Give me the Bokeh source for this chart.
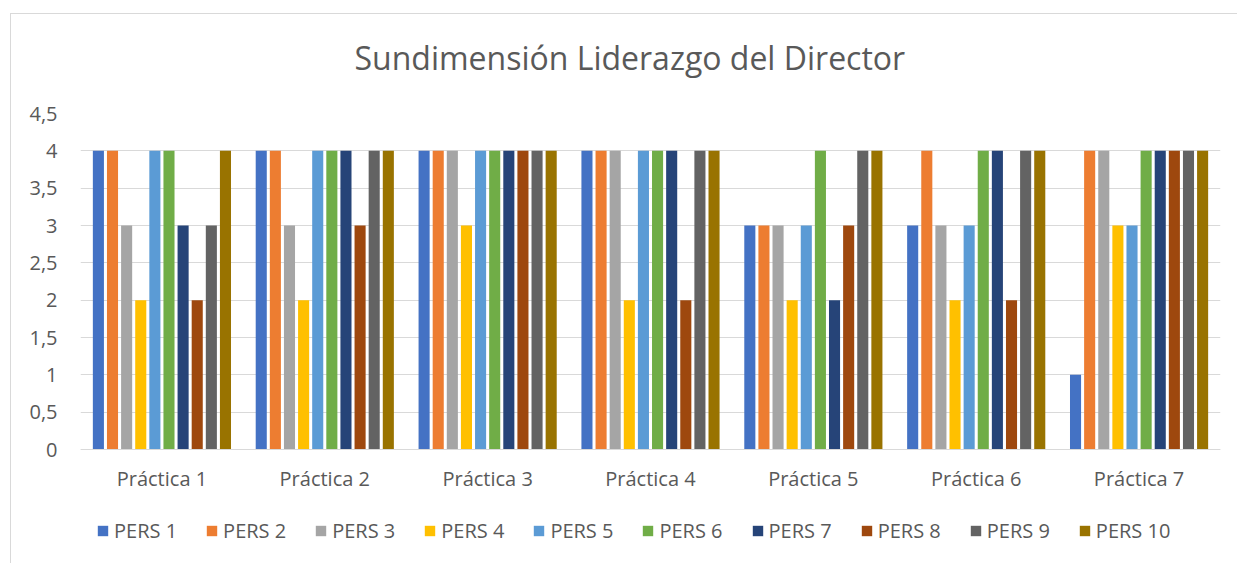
from bokeh.plotting import figure
from bokeh.models import FactorRange, FixedTicker, Legend, LegendItem, ColumnDataSource, Title, Range1d
from bokeh.transform import dodge
from bokeh.embed import file_html
from bokeh.resources import INLINE

title_text = "Sundimensión Liderazgo del Director"
categories = ["Práctica 1", "Práctica 2", "Práctica 3", "Práctica 4", "Práctica 5", "Práctica 6", "Práctica 7"]
series_names = ["PERS 1", "PERS 2", "PERS 3", "PERS 4", "PERS 5", "PERS 6", "PERS 7", "PERS 8", "PERS 9", "PERS 10"]
pers1 = [4, 4, 4, 4, 3, 3, 1]
pers2 = [4, 4, 4, 4, 3, 4, 4]
pers3 = [3, 3, 4, 4, 3, 3, 4]
pers4 = [2, 2, 3, 2, 2, 2, 3]
pers5 = [4, 4, 4, 4, 3, 3, 3]
pers6 = [4, 4, 4, 4, 4, 4, 4]
pers7 = [3, 4, 4, 4, 2, 4, 4]
pers8 = [2, 3, 4, 2, 3, 2, 4]
pers9 = [3, 4, 4, 4, 4, 4, 4]
pers10 = [4, 4, 4, 4, 4, 4, 4]
colors = ["#4472C4", "#ED7D31", "#A5A5A5", "#FFC000", "#5B9BD5", "#70AD47", "#264478", "#9E480E", "#636363", "#997300"]
y_ticks = [0, 0.5, 1, 1.5, 2, 2.5, 3, 3.5, 4, 4.5]
y_tick_labels = ["0", "0,5", "1", "1,5", "2", "2,5", "3", "3,5", "4", "4,5"]

series = [pers1, pers2, pers3, pers4, pers5, pers6, pers7, pers8, pers9, pers10]
data = {"cat": categories}
for i, s in enumerate(series):
    data["s%d" % i] = s
source = ColumnDataSource(data)

FONT = "Open Sans"
TXT = "#595959"

# plot area: value axis 0..4.5 occupies the top 336 px of the frame; the lower part holds category labels + legend
DATA_H = 336
FRAME_H = 450
y_min = -4.5 * (FRAME_H - DATA_H) / DATA_H

p = figure(x_range=FactorRange(factors=categories, range_padding=0), y_range=Range1d(y_min, 4.5),
           frame_width=1140, frame_height=FRAME_H,
           min_border_left=69, min_border_right=17, min_border_top=99, min_border_bottom=0,
           output_backend="svg", toolbar_location=None)
p.margin = (13, 0, 0, 10)
p.styles = {"border-top": "1px solid #d9d9d9", "border-left": "1px solid #d9d9d9"}
p.outline_line_color = None
p.background_fill_color = "white"
p.border_fill_color = "white"

# title: a blank spacer title next to the frame, then the real title above it
p.add_layout(Title(text=" ", text_font_size="10px", standoff=22), "above")
p.add_layout(Title(text=title_text, align="left", offset=274, standoff=0,
                   text_font=FONT, text_font_size="32px", text_font_style="normal",
                   text_color=TXT), "above")

stride = 0.0867
width = 0.068
items = []
for i, name in enumerate(series_names):
    r = p.vbar(x=dodge("cat", (i - 4.5) * stride, range=p.x_range), top="s%d" % i, width=width,
               source=source, fill_color=colors[i], line_color=None)
    items.append(LegendItem(label=name, renderers=[r]))

p.yaxis.ticker = FixedTicker(ticks=y_ticks)
p.yaxis.major_label_overrides = {t: l for t, l in zip(y_ticks, y_tick_labels)}
p.yaxis.axis_line_color = None
p.yaxis.major_tick_line_color = None
p.yaxis.minor_tick_line_color = None
p.yaxis.major_tick_out = 0
p.yaxis.major_label_standoff = 23
p.yaxis.major_label_text_font = FONT
p.yaxis.major_label_text_font_size = "20px"
p.yaxis.major_label_text_color = TXT

p.xaxis.fixed_location = 0
p.xaxis.axis_line_color = "#d9d9d9"
p.xaxis.major_tick_line_color = None
p.xaxis.minor_tick_line_color = None
p.xaxis.major_tick_out = 0
p.xaxis.major_label_standoff = 15
p.xaxis.major_label_text_font = FONT
p.xaxis.major_label_text_font_size = "20px"
p.xaxis.major_label_text_color = TXT

p.xgrid.grid_line_color = None
p.ygrid.ticker = FixedTicker(ticks=y_ticks)
p.ygrid.grid_line_color = "#d9d9d9"
p.ygrid.grid_line_width = 1

legend = Legend(items=items, orientation="horizontal", location=(16, 19),
                label_text_font=FONT, label_text_font_size="20px", label_text_color=TXT,
                glyph_width=13, glyph_height=13, label_standoff=5, spacing=28, label_height=20,
                border_line_color=None, background_fill_alpha=0, margin=0, padding=0)
p.add_layout(legend, "center")

open("out.html", "w").write(file_html(p, INLINE))
